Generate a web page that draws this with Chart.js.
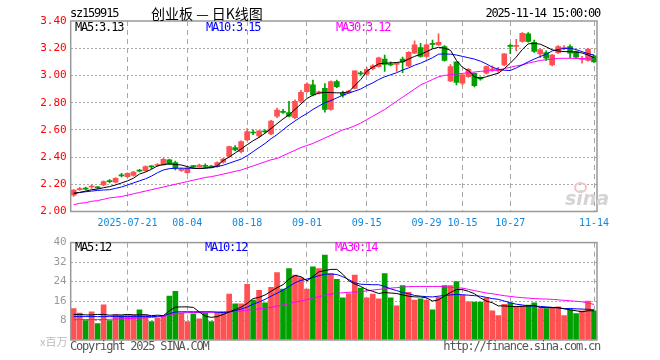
<!DOCTYPE html>
<html><head><meta charset="utf-8">
<script src="https://cdn.jsdelivr.net/npm/chart.js@4.4.0/dist/chart.umd.min.js"></script>
<style>
html,body{margin:0;padding:0;background:#fff;width:660px;height:360px;overflow:hidden;}
#wrap{position:relative;width:660px;height:360px;}
canvas{position:absolute;left:0;}
.t{position:absolute;font-family:"DejaVu Sans Mono",monospace;font-size:12px;letter-spacing:-1.2px;white-space:nowrap;line-height:12px;}
</style></head><body>
<div id="wrap">
<canvas id="k" width="660" height="232" style="top:0"></canvas>
<canvas id="v" width="660" height="128" style="top:232px"></canvas>
<div class="t" style="left:70px;top:7px;color:#000">sz159915</div>
<div style="position:absolute;left:151px;top:4px;font:14px 'Noto Sans CJK SC';line-height:18px;color:#000;white-space:nowrap">创业板 — 日K线图</div>
<div class="t" style="right:60px;top:7px;color:#000">2025-11-14 15:00:00</div>
<div class="t" style="left:75px;top:21px;color:#000">MA5:3.13</div>
<div class="t" style="left:206px;top:21px;color:#0000ff">MA10:3.15</div>
<div class="t" style="left:336px;top:21px;color:#ff00ff">MA30:3.12</div>
<div class="t" style="left:75px;top:241px;color:#000">MA5:12</div>
<div class="t" style="left:205px;top:241px;color:#0000ff">MA10:12</div>
<div class="t" style="left:335px;top:241px;color:#ff00ff">MA30:14</div>
<div style="position:absolute;left:40px;top:334px;font:11px 'Noto Sans CJK SC';color:#bbb;line-height:14px">x百万</div>
<div class="t" style="left:70px;top:340px;color:#555">Copyright 2025 SINA.COM</div>
<div class="t" style="right:60px;top:340px;color:#555">http://finance.sina.com.cn</div>
<div style="position:absolute;left:574px;top:182px;width:9px;height:7px;border:2px solid #f5c4c4;border-radius:50%"></div>
<div style="position:absolute;left:565px;top:188px;font:italic bold 19px 'DejaVu Sans';color:#d4d4d4;line-height:20px">sina</div>
</div>
<script>
const dates = ['07-08','07-09','07-10','07-11','07-14','07-15','07-16','07-17','07-18','07-21','07-22','07-23','07-24','07-25','07-28','07-29','07-30','07-31',
'08-01','08-04','08-05','08-06','08-07','08-08','08-11','08-12','08-13','08-14','08-15','08-18','08-19','08-20','08-21','08-22','08-25','08-26','08-27','08-28','08-29',
'09-01','09-02','09-03','09-04','09-05','09-08','09-09','09-10','09-11','09-12','09-15','09-16','09-17','09-18','09-19','09-22','09-23','09-24','09-25','09-26','09-29','09-30',
'10-09','10-10','10-13','10-14','10-15','10-16','10-17','10-20','10-21','10-22','10-23','10-24','10-27','10-28','10-29','10-30','10-31',
'11-03','11-04','11-05','11-06','11-07','11-10','11-11','11-12','11-13','11-14'];
const tickDates = ['07-21','08-04','08-18','09-01','09-15','09-29','10-15','10-27','11-14'];
const tickText  = ['2025-07-21','08-04','08-18','09-01','09-15','09-29','10-15','10-27','11-14'];
const priceTicks = [2.0,2.2,2.4,2.6,2.8,3.0,3.2,3.4];
const volTicks = [0,8,16,24,32,40];

const openP = [2.12,2.160,2.170,2.180,2.178,2.195,2.225,2.215,2.268,2.256,2.265,2.302,2.30,2.333,2.338,2.342,2.380,2.36,2.302,2.285,
2.335,2.33,2.338,2.334,2.33,2.362,2.404,2.47,2.44,2.526,2.583,2.555,2.590,2.57,2.70,2.733,2.727,2.69,2.81,2.88,
2.93,2.872,2.906,2.75,2.955,2.87,2.875,2.905,3.018,3.01,3.05,3.065,3.12,3.083,3.08,3.12,3.07,3.163,3.205,3.14,
3.232,3.225,3.212,2.96,3.10,2.943,2.99,3.016,2.985,3.016,3.042,3.035,3.077,3.22,3.213,3.25,3.305,3.244,3.158,3.168,
3.077,3.168,3.196,3.212,3.176,3.118,3.11,3.144];
const closeP = [2.158,2.168,2.164,2.187,2.174,2.219,2.219,2.244,2.262,2.28,2.29,2.297,2.33,2.328,2.344,2.384,2.35,2.318,2.307,2.318,
2.33,2.342,2.332,2.326,2.36,2.386,2.477,2.452,2.513,2.587,2.577,2.592,2.585,2.665,2.746,2.728,2.70,2.81,2.876,2.937,
2.857,2.88,2.75,2.955,2.918,2.855,2.885,3.033,3.012,3.045,3.07,3.13,3.08,3.078,3.09,3.10,3.17,3.225,3.14,3.225,
3.228,3.244,3.11,3.065,2.948,3.004,3.045,2.925,2.975,3.065,3.048,3.045,3.158,3.214,3.218,3.31,3.25,3.176,3.19,3.126,
3.15,3.212,3.204,3.163,3.134,3.122,3.193,3.10];
const highP = [2.162,2.178,2.18,2.195,2.185,2.225,2.235,2.25,2.28,2.285,2.295,2.31,2.335,2.338,2.352,2.39,2.385,2.37,2.32,2.325,
2.34,2.348,2.35,2.34,2.365,2.39,2.48,2.485,2.52,2.61,2.60,2.595,2.60,2.67,2.76,2.75,2.81,2.82,2.89,2.945,
2.965,2.885,2.94,2.96,2.965,2.885,2.89,3.035,3.03,3.06,3.08,3.135,3.15,3.10,3.095,3.135,3.175,3.255,3.235,3.23,
3.26,3.305,3.22,3.08,3.10,3.01,3.05,3.02,2.99,3.07,3.07,3.06,3.16,3.23,3.265,3.315,3.315,3.26,3.195,3.18,
3.155,3.22,3.22,3.225,3.18,3.14,3.195,3.15];
const lowP = [2.11,2.155,2.158,2.17,2.168,2.19,2.21,2.21,2.255,2.25,2.26,2.29,2.295,2.315,2.33,2.34,2.345,2.305,2.295,2.28,
2.32,2.325,2.322,2.32,2.325,2.355,2.40,2.445,2.43,2.52,2.565,2.545,2.578,2.565,2.69,2.72,2.695,2.68,2.80,2.875,
2.85,2.865,2.73,2.745,2.91,2.84,2.87,2.90,3.00,3.005,3.04,3.06,3.03,3.07,3.03,3.02,3.065,3.16,3.135,3.135,
3.20,3.22,3.105,2.955,2.93,2.93,2.985,2.915,2.965,3.01,3.03,3.02,3.07,3.16,3.18,3.245,3.245,3.17,3.13,3.11,
3.07,3.16,3.19,3.13,3.125,3.09,3.105,3.095];
const ma5 = [2.135,2.14,2.15,2.16,2.165,2.175,2.183,2.195,2.21,2.225,2.245,2.275,2.29,2.31,2.335,2.345,2.35,2.345,2.342,2.33,
2.318,2.315,2.318,2.322,2.335,2.375,2.40,2.43,2.46,2.49,2.52,2.545,2.575,2.61,2.645,2.68,2.71,2.75,2.79,2.83,
2.855,2.87,2.875,2.874,2.872,2.872,2.88,2.925,2.97,3.03,3.06,3.085,3.09,3.092,3.095,3.10,3.12,3.14,3.155,3.175,
3.195,3.207,3.20,3.185,3.11,3.06,3.035,2.99,2.98,2.99,3.004,3.016,3.05,3.09,3.135,3.19,3.232,3.235,3.23,3.21,
3.188,3.18,3.175,3.175,3.172,3.165,3.15,3.13];
const ma10 = [2.13,2.14,2.145,2.15,2.155,2.158,2.16,2.17,2.18,2.195,2.21,2.225,2.24,2.26,2.285,2.305,2.315,2.318,2.318,2.318,
2.318,2.318,2.32,2.325,2.33,2.34,2.355,2.37,2.385,2.41,2.44,2.47,2.50,2.535,2.565,2.60,2.635,2.665,2.695,2.72,
2.75,2.775,2.80,2.815,2.835,2.855,2.87,2.885,2.90,2.925,2.945,2.97,2.99,3.005,3.02,3.04,3.055,3.075,3.09,3.11,
3.13,3.156,3.158,3.156,3.15,3.14,3.13,3.12,3.105,3.085,3.06,3.046,3.038,3.036,3.055,3.077,3.10,3.12,3.139,3.155,
3.18,3.19,3.198,3.20,3.19,3.175,3.16,3.15];
const ma30 = [2.05,2.06,2.065,2.075,2.08,2.09,2.10,2.105,2.11,2.12,2.13,2.14,2.15,2.16,2.17,2.18,2.19,2.20,2.21,2.22,
2.23,2.24,2.25,2.256,2.265,2.275,2.285,2.295,2.305,2.32,2.335,2.35,2.365,2.38,2.39,2.41,2.43,2.45,2.47,2.485,
2.50,2.52,2.54,2.56,2.58,2.60,2.612,2.63,2.65,2.675,2.70,2.725,2.75,2.78,2.81,2.84,2.87,2.90,2.93,2.95,
2.97,2.99,3.00,3.005,3.01,3.015,3.02,3.025,3.03,3.033,3.036,3.04,3.05,3.06,3.07,3.077,3.09,3.10,3.11,3.115,
3.12,3.125,3.126,3.126,3.125,3.124,3.122,3.12];
const volume = [12.9,11.1,8.0,11.6,6.7,14.4,8.0,10.4,10.0,10.3,10.3,12.4,10.3,7.6,8.9,10.0,18.0,20.0,11.1,7.6,
10.7,8.7,11.1,7.6,11.3,11.6,18.9,14.9,14.9,22.9,16.4,20.4,15.3,21.6,27.7,20.9,29.3,26.7,25.6,20.9,
30.0,29.3,34.9,27.3,24.9,17.3,19.1,26.7,21.3,17.3,18.9,16.9,27.3,17.3,14.0,22.4,19.6,16.4,16.9,16.4,
12.4,17.6,22.4,22.4,24.0,18.4,15.7,15.6,15.6,17.3,12.0,10.0,14.7,15.3,13.7,14.0,14.3,15.3,12.9,12.9,
13.3,13.6,10.0,12.4,10.9,12.0,16.0,12.0];
const vma5 = [10.5,10.5,10.3,10.3,10.5,10.5,10.2,10.3,10.3,10.5,10.3,10.3,10.4,10.0,10.2,10.0,12.0,13.5,13.6,13.6,
13.4,11.5,9.8,9.3,9.6,10.5,11.5,12.5,13.5,15.0,17.0,17.5,18.5,20.0,21.5,22.7,25.0,26.5,26.0,24.3,
26.0,28.0,28.5,29.0,29.0,27.0,24.3,23.0,22.0,20.7,20.0,19.1,19.5,19.3,19.1,18.5,18.0,17.7,17.7,17.3,
16.0,16.5,18.0,19.5,20.7,20.7,20.0,19.0,17.3,16.0,15.3,14.0,14.0,13.8,13.7,13.8,14.0,14.2,13.3,13.3,
13.3,13.3,12.8,12.4,12.0,11.6,12.0,12.0];
const vma10 = [9.6,9.6,9.6,9.6,9.6,9.6,9.6,9.6,9.6,9.6,9.6,9.6,9.6,9.6,9.7,10.0,10.8,11.5,11.6,11.6,
11.6,11.6,11.6,11.6,11.4,11.3,11.5,12.0,12.7,13.5,14.7,15.6,16.7,18.0,19.2,20.5,22.0,23.5,24.5,25.0,
25.7,26.4,27.0,27.1,26.9,26.0,24.8,23.5,22.9,22.8,22.7,22.7,22.0,21.0,20.3,19.5,19.0,18.3,18.0,17.8,
17.7,18.0,18.3,18.5,18.7,18.6,18.4,18.2,18.0,17.5,17.0,16.7,16.0,15.3,14.7,14.4,14.0,13.9,13.8,13.6,
13.4,13.2,12.9,12.9,12.8,12.7,12.6,12.4];
const vma30 = [8.4,8.4,8.4,8.4,8.4,8.4,8.5,8.6,8.7,8.8,8.9,9.0,9.1,9.3,9.4,9.7,10.2,10.8,11.1,11.2,
11.3,11.3,11.4,11.4,11.5,11.5,11.6,11.7,11.9,12.2,12.5,12.8,13.1,13.4,13.9,14.4,14.9,15.5,16.0,16.6,
17.2,17.8,18.4,18.9,19.2,19.4,19.6,19.7,19.8,20.2,20.5,20.8,21.0,21.3,21.5,21.7,21.9,22.0,22.0,22.0,
22.0,22.0,21.9,21.7,21.4,21.3,20.8,20.3,19.8,19.3,19.0,18.6,18.2,17.9,17.6,17.4,17.2,17.0,16.9,16.8,
16.7,16.5,16.3,16.1,15.9,15.7,15.2,14.6];

const UP='#ff5151', DOWN='#00a000';
const colors = openP.map((o,i)=> closeP[i] >= o ? UP : DOWN);
const MONO = "'DejaVu Sans Mono', monospace";
const GRID = '#a8a8a8';

const frame = {id:'frame', afterDatasetsDraw(c){
  const a=c.chartArea, ctx=c.ctx; ctx.save(); ctx.strokeStyle='#999'; ctx.lineWidth=1.5;
  ctx.strokeRect(a.left, a.top, a.right-a.left, a.bottom-a.top); ctx.restore();
}};
const xGridColor = ctx => tickDates.includes(dates[ctx.index]) ? GRID : 'rgba(0,0,0,0)';
function maLine(label, data, color){
  return {type:'line', label, data, borderColor:color, borderWidth:1, pointRadius:0, tension:0, order:0, yAxisID:'y'};
}

new Chart(document.getElementById('k'), {
  type:'bar',
  data:{labels:dates, datasets:[
    maLine('MA5', ma5, '#000000'),
    maLine('MA10', ma10, '#0000ff'),
    maLine('MA30', ma30, '#ff00ff'),
    {label:'body', data: openP.map((o,i)=>[o, closeP[i]]), backgroundColor:colors, barThickness:5, minBarLength:1, grouped:false, order:1},
    {label:'wick', data: lowP.map((l,i)=>[l, highP[i]]), backgroundColor:colors, barThickness:1, grouped:false, order:2}
  ]},
  options:{
    responsive:false, animation:false, devicePixelRatio:1,
    layout:{padding:{top:21, right:63, left:0, bottom:0}},
    plugins:{legend:{display:false}, tooltip:{enabled:false}},
    scales:{
      x:{offset:true,
        grid:{offset:false, color:xGridColor, lineWidth:1, drawTicks:false},
        border:{display:false, dash:[5,4]},
        ticks:{autoSkip:false, maxRotation:0, padding:6, color:'#1188dd', font:{family:MONO, size:10},
          callback:(v,i)=>{const k=tickDates.indexOf(dates[i]); return k>=0 ? tickText[k] : '';}},
        afterFit:s=>{s.height=20.5;}},
      y:{min:priceTicks[0], max:priceTicks[priceTicks.length-1],
        afterBuildTicks:s=>{s.ticks = priceTicks.map(v=>({value:v}));},
        ticks:{color:'#ff0000', padding:4, font:{family:MONO, size:11}, callback:v=>Number(v).toFixed(2)},
        grid:{color:ctx=>(ctx.index===0||ctx.index===priceTicks.length-1)?'rgba(0,0,0,0)':GRID, drawTicks:false},
        border:{display:false, dash:[2,2]},
        afterFit:s=>{s.width=70.7;}}
    }
  },
  plugins:[frame]
});

new Chart(document.getElementById('v'), {
  type:'bar',
  data:{labels:dates, datasets:[
    maLine('MA5', vma5, '#000000'),
    maLine('MA10', vma10, '#0000ff'),
    maLine('MA30', vma30, '#ff00ff'),
    {label:'vol', data:volume, backgroundColor:colors, barThickness:5, grouped:false, order:1}
  ]},
  options:{
    responsive:false, animation:false, devicePixelRatio:1,
    layout:{padding:{top:8.7, right:63, left:0, bottom:0}},
    plugins:{legend:{display:false}, tooltip:{enabled:false}},
    scales:{
      x:{offset:true,
        grid:{offset:false, color:xGridColor, lineWidth:1, drawTicks:false},
        border:{display:false, dash:[5,4]},
        ticks:{display:false, autoSkip:false},
        afterFit:s=>{s.height=20;}},
      y:{min:volTicks[0], max:volTicks[volTicks.length-1],
        afterBuildTicks:s=>{s.ticks = volTicks.map(v=>({value:v}));},
        ticks:{color:'#999', padding:4, font:{family:MONO, size:11}, callback:v=> v===0 ? '' : String(v)},
        grid:{color:ctx=>(ctx.index===0||ctx.index===volTicks.length-1)?'rgba(0,0,0,0)':GRID, drawTicks:false},
        border:{display:false, dash:[2,2]},
        afterFit:s=>{s.width=70.7;}}
    }
  },
  plugins:[frame]
});
</script>
</body></html>
